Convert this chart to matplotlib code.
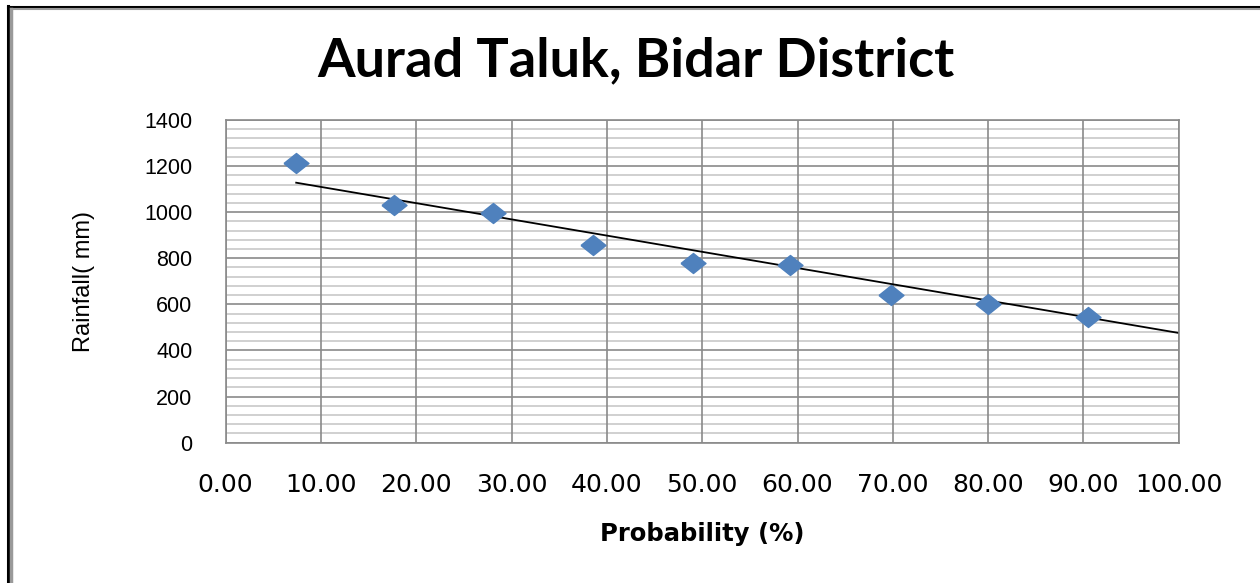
import numpy as np
import matplotlib
matplotlib.use("Agg")
import matplotlib.pyplot as plt
from matplotlib.lines import Line2D

# data
probability = [7.4, 17.7, 28.1, 38.5, 49.0, 59.2, 69.8, 80.0, 90.5]
rainfall = [1215, 1031, 995, 858, 778, 771, 641, 602, 547]
# linear trend line as drawn in the original (forecast forward to 100 %)
trend_slope = -7.04
trend_intercept = 1180
trend_end = 100

x_ticks = np.arange(0, 101, 10)
y_ticks = np.arange(0, 1401, 200)

fig = plt.figure(figsize=(12.6, 5.83), dpi=100)
ax = fig.add_axes([0.1791, 0.2407, 0.7564, 0.5535])

# gridlines
for y in np.arange(0, 1401, 40):
    if y % 200 == 0:
        continue
    ax.axhline(y, color="#c8c8c8", lw=1.2, zorder=0)
for y in y_ticks:
    ax.axhline(y, color="#8a8a8a", lw=1.2, zorder=0)
for x in x_ticks:
    ax.axvline(x, color="#8a8a8a", lw=1.2, zorder=0)

# trend line
tx = np.array([probability[0], trend_end])
ax.plot(tx, trend_slope * tx + trend_intercept, color="black", lw=1.3, zorder=2)

diamond = [(-1, 0), (0, 0.8), (1, 0), (0, -0.8), (-1, 0)]
ax.plot(probability, rainfall, linestyle="none", marker=diamond, markersize=18,
        color="#4f81bd", zorder=3)

ax.set_xlim(0, 100)
ax.set_ylim(0, 1400)
ax.set_xticks(x_ticks)
ax.set_yticks(y_ticks)
ax.set_xticklabels([f"{v:.2f}" for v in x_ticks])
ax.tick_params(length=0)
ax.tick_params(axis="y", labelsize=15.5, pad=24)
ax.tick_params(axis="x", labelsize=18, pad=22)
for lab in ax.get_yticklabels():
    lab.set_family("Liberation Sans")
for s in ax.spines.values():
    s.set_color("#8a8a8a")
    s.set_linewidth(1.2)

ax.set_xlabel("Probability (%)", fontsize=17.5, fontweight="bold", labelpad=18)
ax.set_ylabel("Rainfall( mm)", fontsize=17, family=["Liberation Sans Narrow", "Liberation Sans"])
ax.yaxis.set_label_coords(-0.137, 0.5)
fig.text(0.505, 0.895, "Aurad Taluk, Bidar District", ha="center", va="center",
         fontsize=39, fontweight="bold", family=["Lato", "Liberation Sans"])

# outer chart frame (cut off at right and bottom)
W, H = 1260, 583
fig.add_artist(Line2D([8 / W, 8 / W], [0, 1 - 6 / H], color="black", lw=2.2,
                      transform=fig.transFigure))
fig.add_artist(Line2D([8 / W, 1], [1 - 6.5 / H, 1 - 6.5 / H], color="black", lw=2.2,
                      transform=fig.transFigure))
fig.add_artist(Line2D([11 / W, 11 / W], [0, 1 - 9 / H], color="#9a9a9a", lw=2.5,
                      transform=fig.transFigure))
fig.add_artist(Line2D([11 / W, 1], [1 - 9 / H, 1 - 9 / H], color="#9a9a9a", lw=1.5,
                      transform=fig.transFigure))

fig.savefig("out.png", dpi=100)
